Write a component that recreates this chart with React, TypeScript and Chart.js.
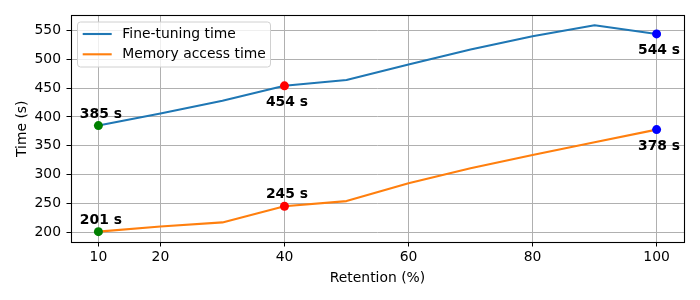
import React, { useEffect, useRef } from "react";
import { Chart, registerables } from "chart.js";

Chart.register(...registerables);

const retention = [10, 20, 30, 40, 50, 60, 70, 80, 90, 100];
const fineTuning = [385, 406, 428, 454, 464, 491, 517, 540, 559, 544];
const memoryAccess = [201, 210, 217, 245, 254, 285, 311, 334, 356, 378];
const xTicks = [10, 20, 40, 60, 80, 100];
const yTicks = [200, 250, 300, 350, 400, 450, 500, 550];
const highlightIdx = [0, 3, 9];
const highlightColors = ["#008000", "#ff0000", "#0000ff"];
const fineLabelPos = ["above", "below", "below"];
const memLabelPos = ["above", "above", "below"];
const seriesNames = ["Fine-tuning time", "Memory access time"];
const seriesColors = ["#1f77b4", "#ff7f0e"];

const FONT = "DejaVu Sans";
const FS = 13.9;

function pointStyleArrays() {
  const radius = retention.map((_, i) => (highlightIdx.includes(i) ? 4.5 : 0));
  const colors = retention.map((_, i) => {
    const k = highlightIdx.indexOf(i);
    return k >= 0 ? highlightColors[k] : "rgba(0,0,0,0)";
  });
  return { radius, colors };
}

const overlayPlugin = {
  id: "overlay",
  afterDraw(chart: any) {
    const ctx = chart.ctx;
    const { left, right, top, bottom } = chart.chartArea;
    const xs = chart.scales.x;
    const ys = chart.scales.y;
    ctx.save();
    // frame
    ctx.strokeStyle = "#000";
    ctx.lineWidth = 1.1;
    const fl = Math.round(left) + 0.5;
    const ft = Math.round(top) + 0.5;
    const fr = Math.round(right) - 0.5;
    const fb = Math.round(bottom) - 0.5;
    ctx.strokeRect(fl, ft, fr - fl, fb - ft);

    // annotations
    ctx.font = `bold ${FS}px "${FONT}"`;
    ctx.fillStyle = "#000";
    ctx.textAlign = "center";
    ctx.textBaseline = "alphabetic";
    const drawLabels = (vals: number[], pos: string[]) => {
      highlightIdx.forEach((idx, k) => {
        const px = xs.getPixelForValue(retention[idx]);
        const py = ys.getPixelForValue(vals[idx]);
        const y = pos[k] === "above" ? py - 8 : py + 20;
        ctx.fillText(`${vals[idx]} s`, px + 2.5, y);
      });
    };
    drawLabels(fineTuning, fineLabelPos);
    drawLabels(memoryAccess, memLabelPos);

    // legend
    const bx = left + 7, by = top + 7, bw = 193, bh = 45;
    const r = 3;
    ctx.beginPath();
    ctx.moveTo(bx + r, by);
    ctx.lineTo(bx + bw - r, by);
    ctx.quadraticCurveTo(bx + bw, by, bx + bw, by + r);
    ctx.lineTo(bx + bw, by + bh - r);
    ctx.quadraticCurveTo(bx + bw, by + bh, bx + bw - r, by + bh);
    ctx.lineTo(bx + r, by + bh);
    ctx.quadraticCurveTo(bx, by + bh, bx, by + bh - r);
    ctx.lineTo(bx, by + r);
    ctx.quadraticCurveTo(bx, by, bx + r, by);
    ctx.closePath();
    ctx.fillStyle = "rgba(255,255,255,0.8)";
    ctx.fill();
    ctx.strokeStyle = "#d0d0d0";
    ctx.lineWidth = 1;
    ctx.stroke();
    ctx.font = `${FS}px "${FONT}"`;
    ctx.textAlign = "left";
    ctx.textBaseline = "middle";
    seriesNames.forEach((name, i) => {
      const ly = top + 19 + i * 20.3;
      ctx.strokeStyle = seriesColors[i];
      ctx.lineWidth = 2.1;
      ctx.beginPath();
      ctx.moveTo(left + 12.2, ly);
      ctx.lineTo(left + 41.2, ly);
      ctx.stroke();
      ctx.fillStyle = "#000";
      ctx.fillText(name, left + 51.8, ly);
    });
    ctx.restore();
  },
};

export default function App() {
  const ref = useRef<HTMLCanvasElement | null>(null);
  useEffect(() => {
    if (!ref.current) return;
    const { radius, colors } = pointStyleArrays();
    const tickFont = { family: FONT, size: FS };
    const chart = new Chart(ref.current, {
      type: "line",
      data: {
        datasets: [
          {
            label: seriesNames[0],
            data: retention.map((x, i) => ({ x, y: fineTuning[i] })),
            borderColor: seriesColors[0],
            borderWidth: 2.1,
            tension: 0,
            fill: false,
            pointRadius: radius,
            pointBackgroundColor: colors,
            pointBorderWidth: 0,
            borderJoinStyle: "round",
          },
          {
            label: seriesNames[1],
            data: retention.map((x, i) => ({ x, y: memoryAccess[i] })),
            borderColor: seriesColors[1],
            borderWidth: 2.1,
            tension: 0,
            fill: false,
            pointRadius: radius,
            pointBackgroundColor: colors,
            pointBorderWidth: 0,
            borderJoinStyle: "round",
          },
        ],
      },
      options: {
        responsive: false,
        animation: false,
        events: [],
        layout: { padding: { top: 15, right: 15.5, left: 0, bottom: 0 } },
        plugins: { legend: { display: false }, tooltip: { enabled: false } },
        scales: {
          x: {
            type: "linear",
            min: 5.5,
            max: 104.5,
            afterBuildTicks: (s: any) => {
              s.ticks = xTicks.map((v) => ({ value: v }));
            },
            afterFit: (s: any) => {
              s.height = 57.5;
            },
            ticks: { font: tickFont, color: "#000", padding: 3, maxRotation: 0, autoSkip: false },
            grid: { color: "#b0b0b0", tickColor: "#000", tickLength: 4, lineWidth: 1 },
            border: { display: false },
            title: {
              display: true,
              text: "Retention (%)",
              font: tickFont,
              color: "#000",
              padding: { top: 0, bottom: 13.7 },
            },
          },
          y: {
            type: "linear",
            min: 182.15,
            max: 576.85,
            afterBuildTicks: (s: any) => {
              s.ticks = yTicks.map((v) => ({ value: v }));
            },
            afterFit: (s: any) => {
              s.width = 70.5;
            },
            ticks: { font: tickFont, color: "#000", padding: 5.5 },
            grid: { color: "#b0b0b0", tickColor: "#000", tickLength: 4, lineWidth: 1 },
            border: { display: false },
            title: {
              display: true,
              text: "Time (s)",
              font: tickFont,
              color: "#000",
              padding: { top: 13.7, bottom: 0 },
            },
          },
        },
      } as any,
      plugins: [overlayPlugin],
    });
    return () => chart.destroy();
  }, []);
  return (
    <div style={{ position: "fixed", left: 0, top: 0, width: 700, height: 300, background: "#fff" }}>
      <canvas ref={ref} width={700} height={300} />
    </div>
  );
}
